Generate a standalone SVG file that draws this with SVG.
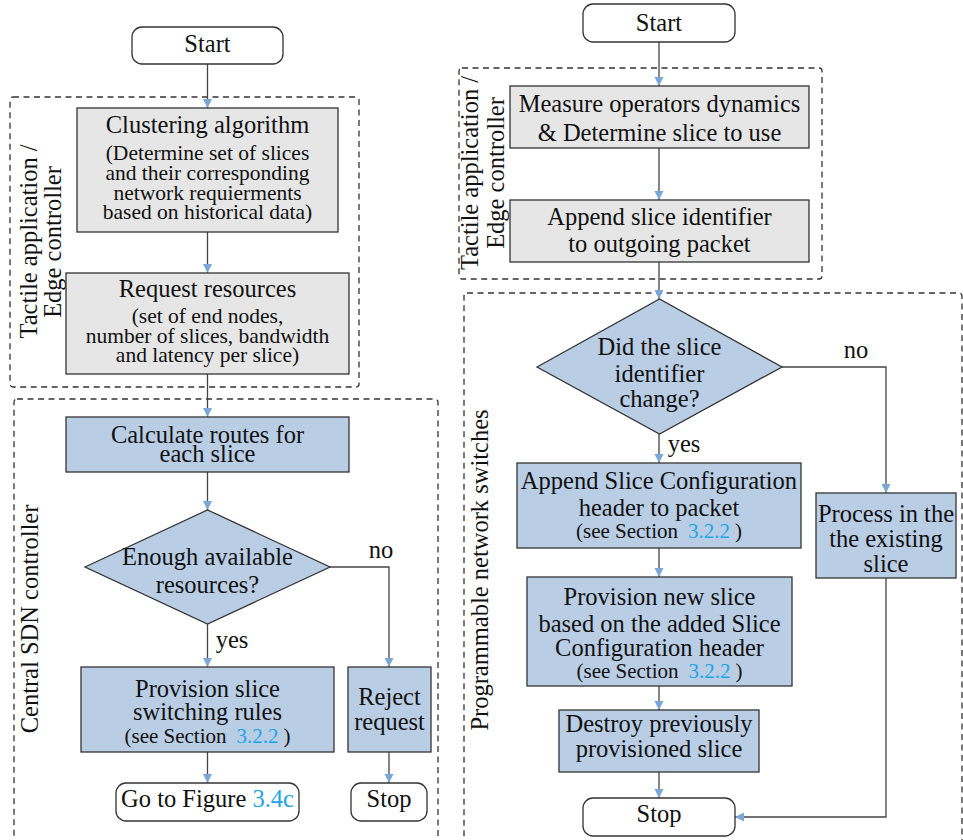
<svg xmlns="http://www.w3.org/2000/svg" width="963" height="840" viewBox="0 0 963 840" font-family="'Liberation Serif', 'DejaVu Serif', serif">
<defs>
<marker id="ah" viewBox="0 0 10 10" refX="10" refY="5" orient="auto" markerUnits="userSpaceOnUse" markerWidth="9" markerHeight="15">
<path d="M0,0 L10,5 L0,10 z" fill="#7ba7d6"/>
</marker>
<style>
text{font-family:'Liberation Serif','DejaVu Serif',serif;fill:#111;}
.t{font-size:24.5px;text-anchor:middle;}
.s{font-size:21.5px;text-anchor:middle;}
.r{font-size:21px;text-anchor:middle;}
.lbl{font-size:24.5px;text-anchor:middle;}
.lk{fill:#1da5ea;}
.gray{fill:#e6e6e6;stroke:#333;stroke-width:1.3;}
.blue{fill:#b9cde5;stroke:#333;stroke-width:1.3;}
.term{fill:#fff;stroke:#333;stroke-width:1.3;}
.dash{fill:none;stroke:#333;stroke-width:1.3;stroke-dasharray:6,4.5;}
.c{fill:none;stroke:#444;stroke-width:1.3;marker-end:url(#ah);}
</style>
</defs>

<g id="groups">
<rect class="dash" x="10" y="97" width="349" height="290" rx="3"/>
<rect class="dash" x="14" y="399" width="424" height="470" rx="3"/>
<rect class="dash" x="459" y="68" width="363" height="211" rx="3"/>
<rect class="dash" x="464" y="293" width="498" height="570" rx="3"/>
<text class="lbl" transform="translate(37,241.5) rotate(-90)">Tactile application /</text>
<text class="lbl" transform="translate(61,242) rotate(-90)">Edge controller</text>
<text class="lbl" transform="translate(38,619) rotate(-90)">Central SDN controller</text>
<text class="lbl" transform="translate(478,173) rotate(-90)">Tactile application /</text>
<text class="lbl" transform="translate(504,173) rotate(-90)">Edge controller</text>
<text class="lbl" transform="translate(488,570) rotate(-90)">Programmable network switches</text>
</g>

<g id="connectors">
<path class="c" d="M207.5,64 V108"/>
<path class="c" d="M207.5,232 V273"/>
<path class="c" d="M207.5,374 V417"/>
<path class="c" d="M207.5,472 V510"/>
<path class="c" d="M207.5,624 V667"/>
<path class="c" d="M330,567 H389 V667"/>
<path class="c" d="M207.5,752 V783"/>
<path class="c" d="M389,752 V783"/>
<text class="lbl" x="232" y="648">yes</text>
<text class="lbl" x="381" y="558">no</text>
<path class="c" d="M659,42 V86"/>
<path class="c" d="M659,148 V200"/>
<path class="c" d="M659,262 V299"/>
<path class="c" d="M659,434 V463"/>
<path class="c" d="M782,367 H886 V493"/>
<path class="c" d="M659,548 V577"/>
<path class="c" d="M659,686 V710"/>
<path class="c" d="M659,772 V798"/>
<path class="c" d="M886,578 V817 H735"/>
<text class="lbl" x="684" y="452">yes</text>
<text class="lbl" x="856" y="358">no</text>
</g>

<g id="start1">
<rect class="term" x="132" y="27" width="151" height="37" rx="10"/>
<text class="t" x="207.5" y="52">Start</text>
</g>
<g id="cluster">
<rect class="gray" x="77" y="108" width="261" height="124"/>
<text class="t" x="207.5" y="133">Clustering algorithm</text>
<text class="s" x="207.5" y="160">(Determine set of slices</text>
<text class="s" x="207.5" y="180">and their corresponding</text>
<text class="s" x="207.5" y="200">network requierments</text>
<text class="s" x="207.5" y="219">based on historical data)</text>
</g>
<g id="request">
<rect class="gray" x="66" y="273" width="283" height="101"/>
<text class="t" x="207.5" y="297">Request resources</text>
<text class="s" x="207.5" y="323">(set of end nodes,</text>
<text class="s" x="207.5" y="343">number of slices, bandwidth</text>
<text class="s" x="207.5" y="362">and latency per slice)</text>
</g>
<g id="calc">
<rect class="blue" x="66" y="417" width="283" height="55"/>
<text class="t" x="207.5" y="443">Calculate routes for</text>
<text class="t" x="207.5" y="462">each slice</text>
</g>
<g id="enough">
<polygon class="blue" points="85,567 207.5,510 330,567 207.5,624"/>
<text class="t" x="207.5" y="565">Enough available</text>
<text class="t" x="207.5" y="593">resources?</text>
</g>
<g id="provision">
<rect class="blue" x="81" y="667" width="253" height="85"/>
<text class="t" x="207.5" y="697">Provision slice</text>
<text class="t" x="207.5" y="720">switching rules</text>
<text class="r" x="207.5" y="743">(see Section<tspan class="lk" dx="10">3.2.2</tspan><tspan dx="5">)</tspan></text>
</g>
<g id="reject">
<rect class="blue" x="348" y="667" width="83" height="85"/>
<text class="t" x="389.5" y="705">Reject</text>
<text class="t" x="389.5" y="730">request</text>
</g>
<g id="goto">
<rect class="term" x="116" y="783" width="183" height="38" rx="10"/>
<text class="t" x="207.5" y="807">Go to Figure <tspan class="lk">3.4c</tspan></text>
</g>
<g id="stop1">
<rect class="term" x="351" y="783" width="76" height="38" rx="10"/>
<text class="t" x="389" y="807">Stop</text>
</g>

<g id="start2">
<rect class="term" x="583" y="4" width="152" height="38" rx="10"/>
<text class="t" x="659" y="31">Start</text>
</g>
<g id="measure">
<rect class="gray" x="510" y="86" width="299" height="62"/>
<text class="t" x="659.5" y="112">Measure operators dynamics</text>
<text class="t" x="659.5" y="141">&amp; Determine slice to use</text>
</g>
<g id="appendid">
<rect class="gray" x="510" y="200" width="299" height="62"/>
<text class="t" x="659.5" y="225">Append slice identifier</text>
<text class="t" x="659.5" y="252">to outgoing packet</text>
</g>
<g id="changed">
<polygon class="blue" points="537,367 659.5,299 782,367 659.5,434"/>
<text class="t" x="659.5" y="355">Did the slice</text>
<text class="t" x="659.5" y="382">identifier</text>
<text class="t" x="659.5" y="407">change?</text>
</g>
<g id="appendcfg">
<rect class="blue" x="517" y="463" width="284" height="85"/>
<text class="t" x="659" y="489">Append Slice Configuration</text>
<text class="t" x="659" y="516">header to packet</text>
<text class="r" x="659" y="538">(see Section<tspan class="lk" dx="10">3.2.2</tspan><tspan dx="5">)</tspan></text>
</g>
<g id="process">
<rect class="blue" x="816" y="493" width="140" height="85"/>
<text class="t" x="886" y="522">Process in the</text>
<text class="t" x="886" y="547">the existing</text>
<text class="t" x="886" y="572">slice</text>
</g>
<g id="provnew">
<rect class="blue" x="527" y="577" width="265" height="109"/>
<text class="t" x="659.5" y="605">Provision new slice</text>
<text class="t" x="659.5" y="632">based on the added Slice</text>
<text class="t" x="659.5" y="656">Configuration header</text>
<text class="r" x="659.5" y="678">(see Section<tspan class="lk" dx="10">3.2.2</tspan><tspan dx="5">)</tspan></text>
</g>
<g id="destroy">
<rect class="blue" x="559" y="710" width="200" height="62"/>
<text class="t" x="659" y="732">Destroy previously</text>
<text class="t" x="659" y="757">provisioned slice</text>
</g>
<g id="stop2">
<rect class="term" x="583" y="798" width="152" height="38" rx="10"/>
<text class="t" x="659" y="822">Stop</text>
</g>
</svg>
